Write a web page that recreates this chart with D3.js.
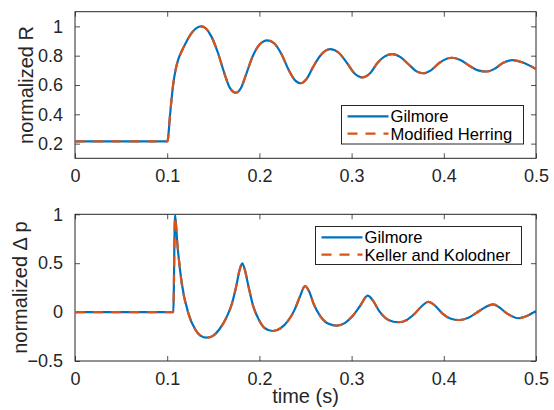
<!DOCTYPE html>
<html>
<head>
<meta charset="utf-8">
<script src="https://cdn.jsdelivr.net/npm/d3@7"></script>
<style>
  body { margin: 0; background: #fff; }
  svg { display: block; font-family: "Liberation Sans", Arial, sans-serif; }
</style>
</head>
<body>
<div id="chart"></div>
<script>
// top panel: normalized radius
var rTime = [0, 0.1, 0.1005, 0.103, 0.1066, 0.109, 0.112, 0.1157, 0.12, 0.1266, 0.132, 0.137, 0.142, 0.148, 0.155, 0.162, 0.168, 0.1746,
  0.18, 0.186, 0.193, 0.2, 0.2086, 0.216, 0.224, 0.232, 0.239, 0.2448, 0.251, 0.258, 0.266, 0.2766, 0.286, 0.295, 0.303, 0.3117,
  0.32, 0.328, 0.336, 0.3442, 0.353, 0.362, 0.37, 0.3778, 0.386, 0.395, 0.4085, 0.418, 0.428, 0.437, 0.4465, 0.455, 0.464, 0.4743,
  0.485, 0.5];
var rGilmore = [0.215, 0.215, 0.22, 0.39, 0.61, 0.70, 0.775, 0.83, 0.885, 0.955, 0.99, 1.0, 0.985, 0.93, 0.82, 0.68, 0.58, 0.547,
  0.58, 0.68, 0.80, 0.875, 0.905, 0.885, 0.81, 0.70, 0.63, 0.612, 0.64, 0.72, 0.80, 0.845, 0.82, 0.75, 0.68, 0.652,
  0.68, 0.75, 0.795, 0.81, 0.79, 0.74, 0.695, 0.68, 0.70, 0.75, 0.786, 0.77, 0.73, 0.70, 0.692, 0.71, 0.75, 0.77,
  0.755, 0.709];
var rHerring = [0.215, 0.215, 0.22, 0.39, 0.61, 0.70, 0.775, 0.83, 0.885, 0.955, 0.99, 1.0, 0.985, 0.93, 0.82, 0.68, 0.58, 0.547,
  0.58, 0.68, 0.80, 0.875, 0.905, 0.885, 0.81, 0.70, 0.63, 0.612, 0.64, 0.72, 0.80, 0.845, 0.82, 0.75, 0.68, 0.652,
  0.68, 0.75, 0.795, 0.81, 0.79, 0.74, 0.695, 0.68, 0.70, 0.75, 0.786, 0.77, 0.73, 0.70, 0.692, 0.71, 0.75, 0.77,
  0.755, 0.709];

// bottom panel: normalized pressure difference
var pTime = [0, 0.1066, 0.1085, 0.111, 0.1157, 0.1229, 0.13, 0.136, 0.1428, 0.15, 0.157, 0.164, 0.17, 0.175, 0.1785, 0.1814,
  0.184, 0.188, 0.193, 0.199, 0.206, 0.2144, 0.223, 0.231, 0.238, 0.244, 0.2495, 0.254, 0.259, 0.266, 0.275, 0.2838,
  0.293, 0.301, 0.309, 0.3174, 0.323, 0.33, 0.34, 0.3507, 0.36, 0.368, 0.376, 0.3832, 0.39, 0.398, 0.407, 0.4168,
  0.426, 0.435, 0.445, 0.4537, 0.46, 0.468, 0.4808, 0.49, 0.5];
var pGilmore = [0, 0, 1.0, 0.70, 0.30, -0.01, -0.17, -0.24, -0.262, -0.24, -0.17, -0.06, 0.08, 0.27, 0.43, 0.499,
  0.44, 0.27, 0.07, -0.07, -0.165, -0.193, -0.165, -0.09, 0.02, 0.16, 0.267, 0.21, 0.08, -0.04, -0.12, -0.139,
  -0.11, -0.04, 0.06, 0.168, 0.12, 0.01, -0.08, -0.104, -0.08, -0.02, 0.06, 0.106, 0.07, -0.01, -0.065, -0.081,
  -0.06, -0.01, 0.05, 0.08, 0.05, -0.01, -0.063, -0.04, 0.011];
var pKeller = [0, 0, 0.97, 0.70, 0.30, -0.01, -0.17, -0.24, -0.262, -0.24, -0.17, -0.06, 0.08, 0.27, 0.43, 0.495,
  0.44, 0.27, 0.07, -0.07, -0.165, -0.193, -0.165, -0.09, 0.02, 0.16, 0.265, 0.21, 0.08, -0.04, -0.12, -0.139,
  -0.11, -0.04, 0.06, 0.166, 0.12, 0.01, -0.08, -0.104, -0.08, -0.02, 0.06, 0.105, 0.07, -0.01, -0.065, -0.081,
  -0.06, -0.01, 0.05, 0.08, 0.05, -0.01, -0.063, -0.04, 0.011];

var xTicks = [0, 0.1, 0.2, 0.3, 0.4, 0.5];
var rTicks = [0.2, 0.4, 0.6, 0.8, 1];
var pTicks = [-0.5, 0, 0.5, 1];

var width = 554, height = 410;
var axColor = "#262626", blue = "#0072BD", orange = "#D95319";

var svg = d3.select("#chart").append("svg")
    .attr("width", width)
    .attr("height", height);

function zip(t, v) {
    return t.map(function (d, i) { return {t: d, v: v[i]}; });
}

function panel(opts) {
    var left = 75, right = 536;
    var x = d3.scaleLinear().domain([0, 0.5]).range([left, right]);
    var y = d3.scaleLinear().domain(opts.ylim).range([opts.bottom, opts.top]);
    var g = svg.append("g");

    g.append("clipPath").attr("id", opts.id)
        .append("rect")
        .attr("x", left).attr("y", opts.top)
        .attr("width", right - left).attr("height", opts.bottom - opts.top);

    var tickLen = 5;
    // x axis bottom + top
    g.append("g")
        .attr("transform", "translate(0," + opts.bottom + ")")
        .call(d3.axisBottom(x).tickValues(xTicks).tickSizeInner(-tickLen).tickSizeOuter(0).tickPadding(11)
            .tickFormat(d3.format("")));
    g.append("g")
        .attr("transform", "translate(0," + opts.top + ")")
        .call(d3.axisTop(x).tickValues(xTicks).tickSizeInner(-tickLen).tickSizeOuter(0).tickFormat(""));
    // y axis left + right
    g.append("g")
        .attr("transform", "translate(" + left + ",0)")
        .call(d3.axisLeft(y).tickValues(opts.ticks).tickSizeInner(-tickLen).tickSizeOuter(0).tickPadding(12)
            .tickFormat(d3.format("")));
    g.append("g")
        .attr("transform", "translate(" + right + ",0)")
        .call(d3.axisRight(y).tickValues(opts.ticks).tickSizeInner(-tickLen).tickSizeOuter(0).tickFormat(""));

    g.selectAll(".domain").remove();
    g.selectAll(".tick line").attr("stroke", axColor).attr("stroke-width", 0.8);
    g.selectAll(".tick text").attr("fill", axColor).style("font-size", "18px")
        .style("font-family", "'Liberation Sans', Arial, sans-serif");

    g.append("rect")
        .attr("x", left).attr("y", opts.top)
        .attr("width", right - left).attr("height", opts.bottom - opts.top)
        .attr("fill", "none").attr("stroke", axColor).attr("stroke-width", 1);

    var line = d3.line()
        .x(function (d) { return x(d.t); })
        .y(function (d) { return y(d.v); })
        .curve(d3.curveMonotoneX);

    var body = g.append("g").attr("clip-path", "url(#" + opts.id + ")");
    body.append("path").datum(zip(opts.time, opts.s1))
        .attr("d", line).attr("fill", "none")
        .attr("stroke", blue).attr("stroke-width", 2.2);
    body.append("path").datum(zip(opts.time, opts.s2))
        .attr("d", line).attr("fill", "none")
        .attr("stroke", orange).attr("stroke-width", 2.2)
        .attr("stroke-dasharray", "10,8");

    // y label
    g.append("text")
        .attr("transform", "translate(" + opts.labelX + "," + ((opts.top + opts.bottom) / 2) + ") rotate(-90)")
        .attr("text-anchor", "middle")
        .attr("fill", axColor)
        .style("font-size", "20px")
        .text(opts.ylabel);

    // legend
    var L = opts.legend;
    var lg = g.append("g");
    lg.append("rect")
        .attr("x", L.x).attr("y", L.y).attr("width", L.w).attr("height", L.h)
        .attr("fill", "#fff").attr("stroke", axColor).attr("stroke-width", 1);
    var names = [opts.names[0], opts.names[1]];
    names.forEach(function (name, i) {
        var cy = L.y + 10.8 + i * 17.4;
        lg.append("line")
            .attr("x1", L.x + 6).attr("x2", L.x + 47)
            .attr("y1", cy).attr("y2", cy)
            .attr("stroke", i === 0 ? blue : orange).attr("stroke-width", 2.2)
            .attr("stroke-dasharray", i === 0 ? null : "10,8");
        lg.append("text")
            .attr("x", L.x + 49).attr("y", cy + 6)
            .attr("fill", "#000")
            .style("font-size", "16.6px")
            .text(name);
    });

    return {x: x, y: y};
}

panel({
    id: "clipTop", top: 11.7, bottom: 158.3, ylim: [0.1, 1.1], ticks: rTicks,
    time: rTime, s1: rGilmore, s2: rHerring,
    ylabel: "normalized R", labelX: 33,
    names: ["Gilmore", "Modified Herring"],
    legend: {x: 341.5, y: 105.5, w: 182, h: 38.5}
});

panel({
    id: "clipBottom", top: 214.3, bottom: 361, ylim: [-0.5, 1], ticks: pTicks,
    time: pTime, s1: pGilmore, s2: pKeller,
    ylabel: "normalized \u0394 p", labelX: 27,
    names: ["Gilmore", "Keller and Kolodner"],
    legend: {x: 315.5, y: 226.5, w: 206, h: 38}
});

svg.append("text")
    .attr("x", 305.5).attr("y", 403)
    .attr("text-anchor", "middle")
    .attr("fill", axColor)
    .style("font-size", "20px")
    .text("time (s)");
</script>
</body>
</html>
